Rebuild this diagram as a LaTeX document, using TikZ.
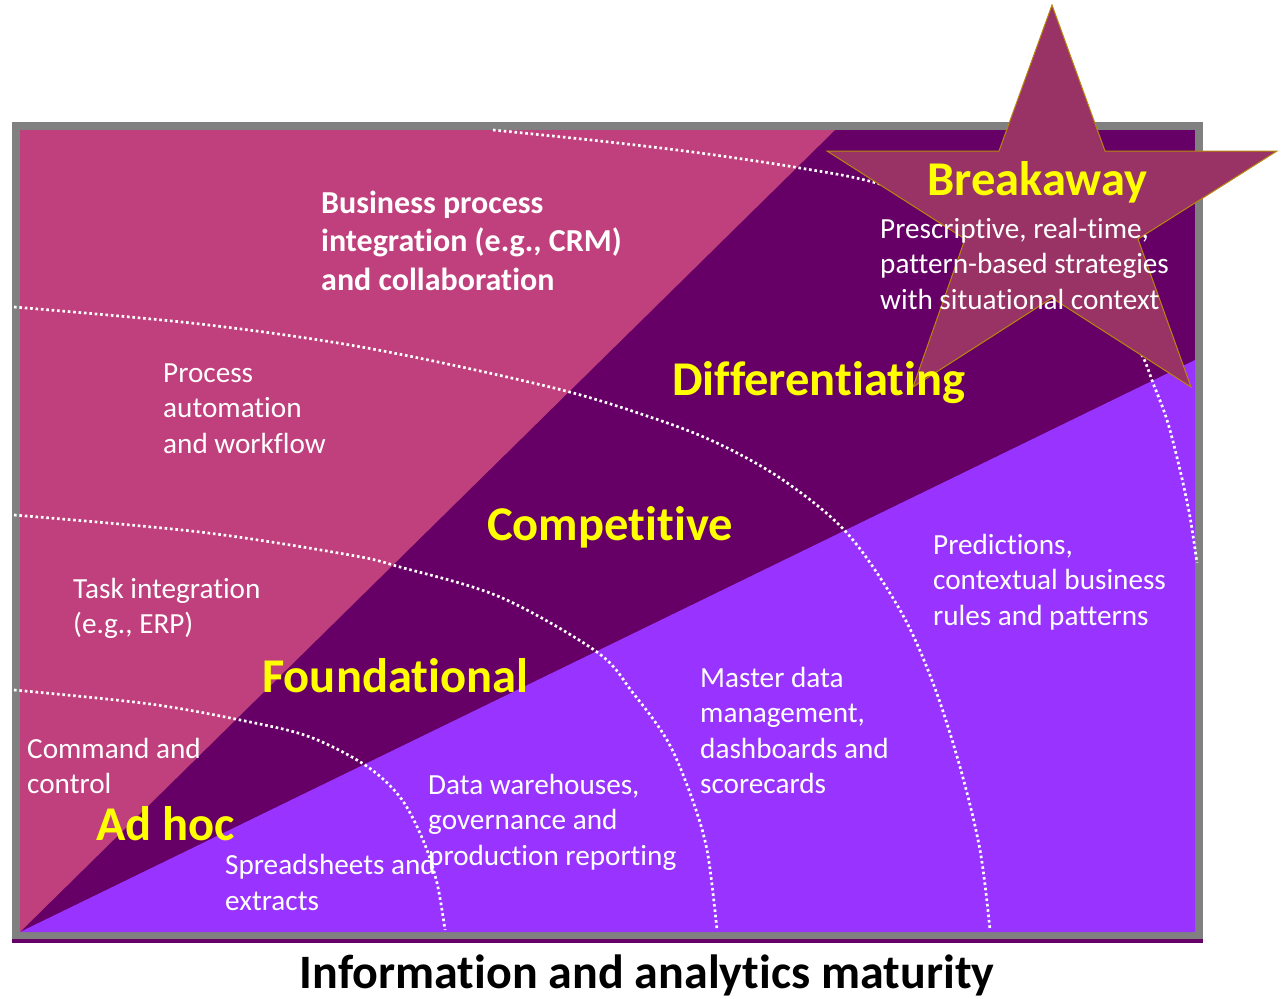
\documentclass[tikz,border=0pt]{standalone}
\usepackage{fontspec}
\setmainfont{Carlito}[Ligatures={CommonOff}]
\definecolor{pinkreg}{RGB}{192,64,125}
\definecolor{darkreg}{RGB}{102,0,102}
\definecolor{violreg}{RGB}{153,51,255}
\definecolor{starfill}{RGB}{153,51,102}
\definecolor{starline}{RGB}{184,134,11}
\definecolor{framegray}{RGB}{128,128,128}
\definecolor{lblyellow}{RGB}{255,255,0}
\tikzset{
  stagelbl/.style={anchor=base west, inner sep=0pt, text=lblyellow, font=\fontsize{48.5}{56}\selectfont\bfseries},
  bodylbl/.style={anchor=base west, inner sep=0pt, text=white, align=left, font=\fontsize{29.2}{35.5}\selectfont},
  boldlbl/.style={anchor=base west, inner sep=0pt, text=white, align=left, font=\fontsize{32}{38.5}\selectfont\bfseries},
  dotline/.style={white, line width=2.7pt, dash pattern=on 2.6pt off 2.8pt},
}
\begin{document}
\begin{tikzpicture}[x=1pt, y=-1pt]
\useasboundingbox (0,0) rectangle (1283,999);
% frame and shadow strip
\fill[darkreg] (12,936) rectangle (1203,943);
\fill[framegray] (12,122) rectangle (1203,939);
% regions
\fill[darkreg] (20,130) rectangle (1195,932);
\fill[pinkreg] (20,130) -- (835,130) -- (20,932) -- cycle;
\fill[violreg] (20,932) -- (1195,360) -- (1195,932) -- cycle;
% dotted curves
\draw[dotline] plot[smooth, tension=0.55] coordinates {(14,690) (150,704) (250,722) (310,737) (365,765) (400,797) (423,840) (437,883) (445,930)};
\draw[dotline] plot[smooth, tension=0.55] coordinates {(14,515) (200,532) (350,555) (400,567) (500,597) (597,652) (633,693) (667,740) (690,793) (707,850) (717,930)};
\draw[dotline] plot[smooth, tension=0.55] coordinates {(14,307) (200,324) (367,348) (550,387) (650,417) (717,443) (783,480) (847,533) (900,610) (933,683) (960,767) (980,850) (990,930)};
\draw[dotline] plot[smooth, tension=0.55] coordinates {(493,130) (600,141) (700,153) (800,168) (880,184) (1000,225) (1080,280) (1120,320) (1142,355) (1153,383) (1167,420) (1180,470) (1190,517) (1197,563)};
% star
\draw[starline, fill=starfill, line width=1pt, line join=miter]
  (1052,5) -- (1105,151) -- (1277,151) -- (1138,239) -- (1191,387) -- (1052,298)
  -- (913,387) -- (965,239) -- (827,151) -- (999,151) -- cycle;
% stage labels
\node[stagelbl] (brk) at (927,195) {Breakaway};
\node[stagelbl] (dif) at (672,395) {Differentiating};
\node[stagelbl] (cmp) at (487,540) {Competitive};
\node[stagelbl] (fnd) at (262,692) {Foundational};
\node[stagelbl] (adh) at (96,840) {Ad hoc};
% descriptions (anchored at the baseline of their last line)
\node[bodylbl] (presc) at (880,309) {Prescriptive, real-time,\\pattern-based strategies\\with situational context};
\node[boldlbl] (bpi) at (321,290) {Business process\\integration (e.g., CRM)\\and collaboration};
\node[bodylbl] (paw) at (163,453) {Process\\automation\\and workflow};
\node[bodylbl] (task) at (73,633.5) {Task integration\\(e.g., ERP)};
\node[bodylbl] (cmd) at (27,793.5) {Command and\\control};
\node[bodylbl] (ssx) at (225,910) {Spreadsheets and\\extracts};
\node[bodylbl] (dwh) at (428,865) {Data warehouses,\\governance and\\production reporting};
\node[bodylbl] (mdm) at (700,793.5) {Master data\\management,\\dashboards and\\scorecards};
\node[bodylbl] (pred) at (933,625) {Predictions,\\contextual business\\rules and patterns};
% title
\node[anchor=base, inner sep=0pt, font=\fontsize{48}{56}\selectfont\bfseries] (title) at (647,988) {Information and analytics maturity};
\end{tikzpicture}
\end{document}
